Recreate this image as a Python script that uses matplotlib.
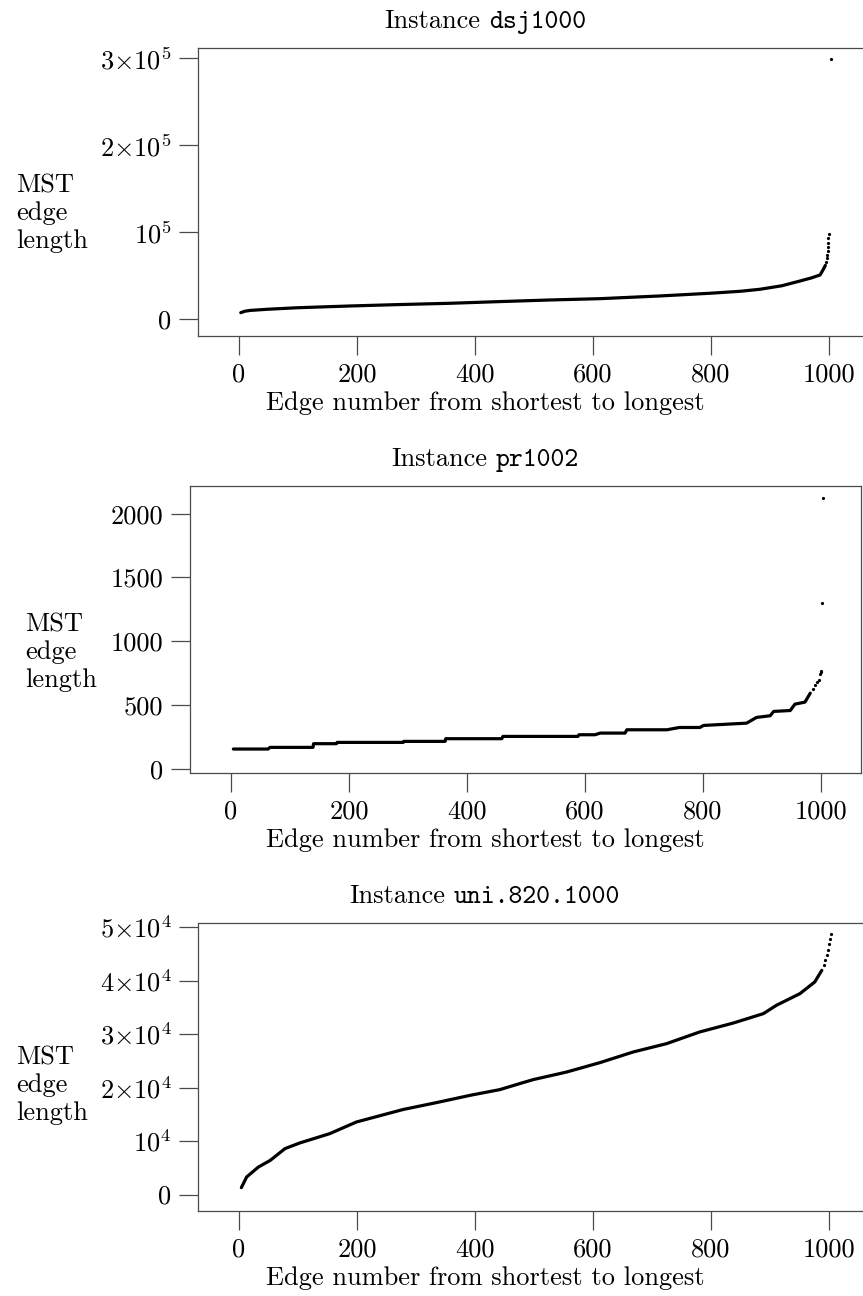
import matplotlib
matplotlib.use("Agg")
import matplotlib.pyplot as plt
import numpy as np

plt.rcParams['font.family'] = 'cmr10'
plt.rcParams['mathtext.fontset'] = 'cm'
plt.rcParams['axes.formatter.use_mathtext'] = True
plt.rcParams['axes.unicode_minus'] = False

# ---- data ----
# dsj1000: dense part of the sorted MST edge lengths, then the sparse tail
dsj_x = [3, 10, 19, 50, 100, 188, 270, 358, 440, 527, 612, 713, 798, 850, 883, 920, 951, 970, 985, 990, 994]
dsj_y = [7600, 9300, 10200, 11600, 13300, 15300, 16900, 18400, 20300, 22200, 23700, 26800, 29900, 32200,
         34500, 38500, 44000, 47500, 50900, 56700, 62000]
dsj_tail_x = [995, 996, 997, 998, 998, 999, 999, 1000, 1004]
dsj_tail_y = [66000, 70000, 73900, 78000, 83400, 88000, 93100, 98000, 298900]

# pr1002: step-like sorted lengths
pr_x = [4, 63, 66, 139, 140, 179, 180, 292, 293, 363, 364, 459, 461, 588, 590, 617, 626, 668, 671, 739,
        760, 795, 801, 874, 891, 914, 920, 948, 956, 973, 982]
pr_y = [154, 154, 167, 167, 196, 196, 206, 206, 214, 214, 235, 235, 253, 253, 266, 266, 279, 279, 305, 305,
        323, 323, 339, 357, 402, 415, 449, 456, 506, 522, 592]
pr_tail_x = [986, 990, 993, 996, 998, 1000, 1001, 1002, 1003]
pr_tail_y = [625, 657, 676, 696, 743, 760, 769, 1301, 2126]

# uni.820.1000
uni_x = [4, 13, 33, 53, 78, 103, 154, 199, 278, 335, 392, 442, 476, 499, 555, 612, 668, 725, 781, 838,
         889, 911, 951, 976, 988]
uni_y = [1300, 3300, 5160, 6400, 8600, 9650, 11400, 13570, 15900, 17200, 18560, 19620, 20750, 21500,
         22900, 24670, 26650, 28220, 30400, 32070, 33830, 35380, 37570, 39740, 41920]
uni_tail_x = [991, 994, 996, 998, 1000, 1002, 1004]
uni_tail_y = [42900, 43900, 44730, 45800, 46910, 47800, 48780]

titles = ['dsj1000', 'pr1002', 'uni.820.1000']
x_ticks = [0, 200, 400, 600, 800, 1000]
y_ticks = [[0, 1e5, 2e5, 3e5],
           [0, 500, 1000, 1500, 2000],
           [0, 1e4, 2e4, 3e4, 4e4, 5e4]]
y_tick_labels = [[r'$0$', r'$10^5$', r'$2{\times}10^5$', r'$3{\times}10^5$'],
                 ['0', '500', '1000', '1500', '2000'],
                 [r'$0$', r'$10^4$', r'$2{\times}10^4$', r'$3{\times}10^4$', r'$4{\times}10^4$',
                  r'$5{\times}10^4$']]

series = [(dsj_x, dsj_y, dsj_tail_x, dsj_tail_y),
          (pr_x, pr_y, pr_tail_x, pr_tail_y),
          (uni_x, uni_y, uni_tail_x, uni_tail_y)]
y_limits = [(-19200, 311800), (-34, 2217), (-3065, 50766)]

# ---- layout (pixels of the 863x1296 picture) ----
W, H = 863, 1296
boxes = [(198, 48, 336), (190, 486, 773), (198, 923, 1211)]  # left, top, bottom
box_w = 671
ylab_x = [16, 25, 16]
ylab_y = [213, 652, 1085]
fs = 19
frame_col = '#4a4a4a'

fig = plt.figure(figsize=(W / 100, H / 100), dpi=100)
renderer = fig.canvas.get_renderer()

for i in range(3):
    left, top, bottom = boxes[i]
    ax = fig.add_axes([left / W, 1 - bottom / H, box_w / W, (bottom - top) / H])
    x, y, tx, ty = series[i]
    ax.plot(x, y, color='black', lw=2.3, solid_capstyle='round')
    ax.plot(tx, ty, linestyle='none', marker='o', ms=2.3, color='black', mew=0)
    ax.set_xlim(-69.5, 1068)
    ax.set_ylim(*y_limits[i])
    ax.set_xticks(x_ticks)
    ax.set_xticklabels([str(v) for v in x_ticks], fontsize=fs)
    ax.set_yticks(y_ticks[i])
    ax.set_yticklabels(y_tick_labels[i], fontsize=fs)
    for s in ax.spines.values():
        s.set_color(frame_col)
        s.set_linewidth(0.9)
    ax.tick_params(direction='out', length=13.5, width=0.9, color=frame_col)
    ax.tick_params(axis='y', pad=5.5)
    ax.tick_params(axis='x', pad=6.0)

    # title: roman "Instance" followed by the instance name in typewriter
    t1 = fig.text(0, 0, 'Instance', ha='left', va='baseline', fontsize=fs)
    t2 = fig.text(0, 0, titles[i], ha='left', va='baseline', fontsize=fs, family='cmtt10')
    w1 = t1.get_window_extent(renderer).width
    w2 = t2.get_window_extent(renderer).width
    gap = fs * 100 / 72 * 0.33
    x0 = 485 - (w1 + gap + w2) / 2
    base = 1 - (top - 20) / H
    t1.set_position((x0 / W, base))
    t2.set_position(((x0 + w1 + gap) / W, base))

    fig.text(485 / W, 1 - (bottom + 67) / H, 'Edge number from shortest to longest',
             ha='center', va='center', fontsize=fs)
    fig.text(ylab_x[i] / W, 1 - ylab_y[i] / H, 'MST\nedge\nlength', ha='left', va='center',
             multialignment='left', fontsize=fs, linespacing=1.22)

fig.savefig('out.png', dpi=100)
